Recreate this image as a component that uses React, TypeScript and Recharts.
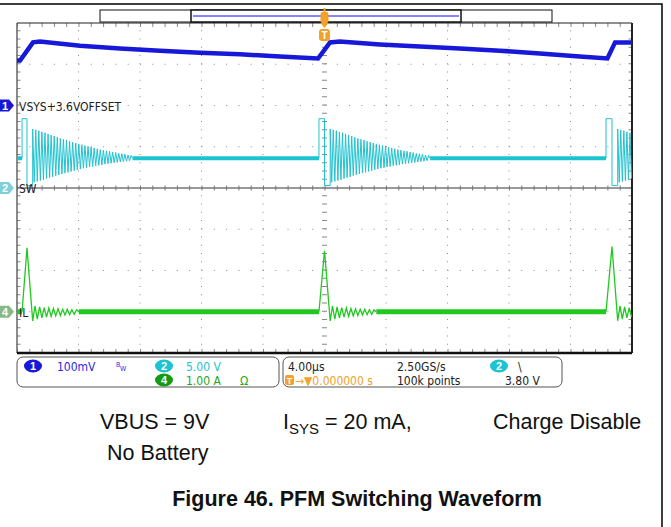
import React from "react";
import { LineChart, Line, XAxis, YAxis, ReferenceLine } from "recharts";

const W = 671;
const H = 527;
const PLOT = { left: 17, top: 23, right: 632, bottom: 353 };
const DIV_H = (PLOT.bottom - PLOT.top) / 8;

// scope settings (from the readout panel)
const CH1_MV_PER_DIV = 100;
const CH2_V_PER_DIV = 5;
const CH4_A_PER_DIV = 1;
const CH1_POS_DIV = 2;
const CH2_POS_DIV = 0;
const CH4_POS_DIV = -3;

// grid positions, in µs / divisions
const GRID_X = [-16, -12, -8, -4, 4, 8, 12, 16];
const GRID_Y = [-3, -2, -1, 1, 2, 3];

// VSYS (ch1): mV above the 3.6 V offset
const VSYS_T_US = [-20, -19.8, -18.96, -18.5, -15.9, -13.3, -10.7, -8.1, -5.5, -2.9, -0.42, 0.36, 1.0, 3.6, 6.2, 8.8, 11.4, 14.0, 16.6, 18.4, 18.9, 20];
const VSYS_MV = [109, 109, 153, 155, 145, 138, 133, 128, 124, 119, 114, 153, 155, 148, 143, 138, 133, 126, 119, 114, 153, 153];

// SW (ch2): one PFM burst per edge
const SW_EDGE_US = [-19.35, 0, 18.7];
const SW_HIGH_US = [0.32, 0.36, 0.39];
const SW_HIGH_V = 8.4;
const SW_LOW_V = 0.3;
const SW_LOW_US = 0.37;
const SW_SETTLED_V = 3.6;
const SW_RING_STEP_US = 0.1;
const SW_RING_V = [
  7.15, 0.7, 7.05, 0.8, 6.95, 0.9, 6.8, 1.0, 6.7, 1.15,
  6.55, 1.25, 6.4, 1.35, 6.3, 1.5, 6.15, 1.6, 6.0, 1.7,
  5.9, 1.8, 5.8, 1.9, 5.65, 2.0, 5.55, 2.1, 5.45, 2.2,
  5.35, 2.3, 5.25, 2.4, 5.15, 2.45, 5.05, 2.55, 4.95, 2.6,
  4.85, 2.7, 4.75, 2.75, 4.65, 2.8, 4.6, 2.9, 4.5, 2.95,
  4.45, 3.0, 4.35, 3.05, 4.3, 3.1, 4.2, 3.15, 4.15, 3.2,
  4.1, 3.25, 4.0, 3.3, 3.95,
];

// IL (ch4): inductor current triangle per burst, then ringing
const IL_PEAK_A = [1.55, 1.48, 1.58];
const IL_RING_STEP_US = 0.15;
const IL_RING_A = [
  -0.22, 0.14, -0.18, 0.12, -0.15, 0.1, -0.13, 0.09, -0.11, 0.08,
  -0.1, 0.07, -0.09, 0.06, -0.08, 0.06, -0.07, 0.05, -0.06, 0.05,
];

type Pt = { t: number; y: number | null };

const ch1 = (mv: number) => CH1_POS_DIV + mv / CH1_MV_PER_DIV;
const ch2 = (v: number) => CH2_POS_DIV + v / CH2_V_PER_DIV;
const ch4 = (a: number) => CH4_POS_DIV + a / CH4_A_PER_DIV;

const vsysData: Pt[] = VSYS_T_US.map((t, i) => ({ t, y: ch1(VSYS_MV[i]) }));

const swThin: Pt[] = [];
const swBand: Pt[] = [];
const ilThin: Pt[] = [];
const ilBand: Pt[] = [];

let swFrom = -20;
let ilFrom = -20;
SW_EDGE_US.forEach((e, i) => {
  const start = e - SW_HIGH_US[i];
  swBand.push({ t: swFrom, y: ch2(SW_SETTLED_V) }, { t: start, y: ch2(SW_SETTLED_V) }, { t: start, y: null });
  swThin.push(
    { t: start, y: ch2(SW_SETTLED_V) },
    { t: start, y: ch2(SW_HIGH_V) },
    { t: e, y: ch2(SW_HIGH_V) },
    { t: e, y: ch2(SW_LOW_V) },
    { t: e + SW_LOW_US, y: ch2(SW_LOW_V) },
  );
  SW_RING_V.forEach((v, k) => swThin.push({ t: e + SW_LOW_US + k * SW_RING_STEP_US, y: ch2(v) }));
  const swEnd = e + SW_LOW_US + SW_RING_V.length * SW_RING_STEP_US;
  swThin.push({ t: swEnd, y: ch2(SW_SETTLED_V) }, { t: swEnd + 0.01, y: null });
  swFrom = swEnd;

  ilBand.push({ t: ilFrom, y: ch4(0) }, { t: start, y: ch4(0) }, { t: start, y: null });
  ilThin.push({ t: start, y: ch4(0) }, { t: e, y: ch4(IL_PEAK_A[i]) });
  IL_RING_A.forEach((a, k) => ilThin.push({ t: e + SW_LOW_US + k * IL_RING_STEP_US, y: ch4(a) }));
  const ilEnd = e + SW_LOW_US + IL_RING_A.length * IL_RING_STEP_US;
  ilThin.push({ t: ilEnd, y: ch4(0) }, { t: ilEnd + 0.01, y: null });
  ilFrom = ilEnd;
});
if (swFrom < 20) swBand.push({ t: swFrom, y: ch2(SW_SETTLED_V) }, { t: 20, y: ch2(SW_SETTLED_V) });
if (ilFrom < 20) ilBand.push({ t: ilFrom, y: ch4(0) }, { t: 20, y: ch4(0) });

const clip = (pts: Pt[]) => pts.filter((p) => p.t <= 20);

const NARROW = "'Liberation Sans Narrow', 'DejaVu Sans Condensed', sans-serif";
const ARIAL = "'Liberation Sans', Arial, sans-serif";
const ORANGE = "#f2a22a";
const BLUE = "#1818d8";
const CYAN = "#1cc4d2";
const GREEN = "#22c822";

const divToY = (d: number) => PLOT.top + (4 - d) * DIV_H;

function ChannelTag({ y, fill, label }: { y: number; fill: string; label: string }) {
  return (
    <g>
      <path d={`M0,${y - 6} H9 L14,${y} L9,${y + 6} H0 Z`} fill={fill} />
      <text x={5} y={y + 4} fontSize={11} fontFamily={ARIAL} fontWeight="bold" fill="#fff" textAnchor="middle">
        {label}
      </text>
    </g>
  );
}

function Badge({ cx, cy, fill, label }: { cx: number; cy: number; fill: string; label: string }) {
  return (
    <g>
      <ellipse cx={cx} cy={cy} rx={9} ry={6.5} fill={fill} />
      <text x={cx} y={cy + 4} fontSize={11} fontFamily={ARIAL} fontWeight="bold" fill="#fff" textAnchor="middle">
        {label}
      </text>
    </g>
  );
}

function Overlay() {
  return (
    <svg width={W} height={H} style={{ position: "absolute", left: 0, top: 0, pointerEvents: "none" }}>
      {/* page frame */}
      <path d="M0,4 H662 V527" fill="none" stroke="#000" strokeWidth={1.5} />

      {/* record overview bar */}
      <rect x={100} y={10} width={452} height={12} fill="#fff" stroke="#111" strokeWidth={1} />
      <rect x={191} y={10} width={270} height={12} fill="#fff" stroke="#111" strokeWidth={1.5} />
      <line x1={193} x2={459} y1={16} y2={16} stroke="#8484ff" strokeWidth={2} />

      {/* trigger markers */}
      <line x1={324.5} x2={324.5} y1={8} y2={12} stroke={ORANGE} strokeWidth={2} />
      <rect x={320.5} y={12} width={8} height={11} rx={2} fill={ORANGE} />
      <path d="M320.5,23 L328.5,23 L324.5,28 Z" fill={ORANGE} />
      <rect x={319} y={29} width={11} height={12} rx={3} fill={ORANGE} />
      <text x={324.5} y={39} fontSize={10} fontFamily={ARIAL} fontWeight="bold" fill="#fff" textAnchor="middle">T</text>

      {/* channel ground markers */}
      <ChannelTag y={divToY(CH1_POS_DIV)} fill={BLUE} label="1" />
      <ChannelTag y={divToY(CH2_POS_DIV)} fill="#7fd0d8" label="2" />
      <ChannelTag y={divToY(CH4_POS_DIV)} fill="#88b888" label="4" />
      <text x={19} y={divToY(CH1_POS_DIV) + 5} fontSize={12} fontFamily={NARROW} fill="#222">VSYS+3.6VOFFSET</text>
      <text x={19} y={divToY(CH2_POS_DIV) + 5} fontSize={12} fontFamily={NARROW} fill="#222">SW</text>
      <text x={19} y={divToY(CH4_POS_DIV) + 5} fontSize={12} fontFamily={NARROW} fill="#222">IL</text>

      {/* readout panel */}
      <rect x={17} y={357} width={262} height={30} rx={6} fill="#fff" stroke="#555" strokeWidth={1} />
      <rect x={283} y={357} width={279} height={30} rx={6} fill="#fff" stroke="#555" strokeWidth={1} />
      <g fontFamily={NARROW} fontSize={12}>
        <Badge cx={33} cy={366} fill={BLUE} label="1" />
        <text x={57} y={371} fill="#2a2ae0">100mV</text>
        <text x={116} y={367} fontSize={7} fill="#2a2ae0">B</text>
        <text x={120} y={371} fontSize={7} fill="#2a2ae0">W</text>
        <Badge cx={164} cy={366} fill={CYAN} label="2" />
        <text x={186} y={371} fill={CYAN}>5.00 V</text>
        <Badge cx={164} cy={380} fill="#139c13" label="4" />
        <text x={186} y={385} fill="#22a822">1.00 A</text>
        <text x={240} y={385} fill="#22a822">Ω</text>

        <text x={288} y={371} fill="#222">4.00µs</text>
        <text x={397} y={371} fill="#222">2.50GS/s</text>
        <Badge cx={499} cy={366} fill={CYAN} label="2" />
        <text x={518} y={371} fill="#222">\</text>
        <rect x={285} y={375} width={9} height={10} rx={2} fill={ORANGE} />
        <text x={289.5} y={384} fontSize={9} fontFamily={ARIAL} fontWeight="bold" fill="#fff" textAnchor="middle">T</text>
        <text x={295} y={385} fill={ORANGE}>→▼0.000000 s</text>
        <text x={397} y={385} fill="#222">100k points</text>
        <text x={505} y={385} fill="#222">3.80 V</text>
      </g>

      {/* figure captions */}
      <g fontFamily={ARIAL} fontSize={21.5} fill="#111">
        <text x={100} y={429}>VBUS = 9V</text>
        <text x={283} y={429}>
          I<tspan dy={5} fontSize={15}>SYS</tspan>
          <tspan dy={-5}> = 20 mA,</tspan>
        </text>
        <text x={493} y={429}>Charge Disable</text>
        <text x={107} y={460}>No Battery</text>
        <text x={357} y={506} fontSize={21.5} fontWeight="bold" textAnchor="middle">
          Figure 46. PFM Switching Waveform
        </text>
      </g>
    </svg>
  );
}

export default function App() {
  return (
    <div style={{ position: "absolute", left: 0, top: 0, width: W, height: H, background: "#fff" }}>
      <LineChart
        width={W}
        height={H}
        margin={{ top: PLOT.top, left: PLOT.left, right: W - PLOT.right, bottom: H - PLOT.bottom }}
      >
        <XAxis type="number" dataKey="t" domain={[-20, 20]} hide allowDataOverflow />
        <YAxis type="number" dataKey="y" domain={[-4, 4]} hide allowDataOverflow />

        {/* dotted graticule */}
        {GRID_Y.map((d) => (
          <ReferenceLine key={`gy${d}`} y={d} stroke="#8a8a8a" strokeWidth={1} strokeDasharray="1 11.3" />
        ))}
        {GRID_X.map((d) => (
          <ReferenceLine key={`gx${d}`} x={d} stroke="#8a8a8a" strokeWidth={1} strokeDasharray="1 7.25" />
        ))}

        {/* centre cross with minor ticks */}
        <ReferenceLine y={0} stroke="#777" strokeWidth={1.5} />
        <ReferenceLine y={0} stroke="#777" strokeWidth={5} strokeDasharray="1 11.3" />
        <ReferenceLine x={0} stroke="#888" strokeWidth={5} strokeDasharray="1 7.25" />

        {/* border ticks */}
        <ReferenceLine y={3.95} stroke="#888" strokeWidth={4} strokeDasharray="1 11.3" />
        <ReferenceLine y={-3.95} stroke="#888" strokeWidth={4} strokeDasharray="1 11.3" />
        <ReferenceLine x={-19.9} stroke="#888" strokeWidth={4} strokeDasharray="1 7.25" />
        <ReferenceLine x={19.9} stroke="#888" strokeWidth={4} strokeDasharray="1 7.25" />

        {/* borders */}
        <ReferenceLine x={-20} stroke="#666" strokeWidth={1.5} />
        <ReferenceLine x={20} stroke="#222" strokeWidth={2} />
        <ReferenceLine y={4} stroke="#222" strokeWidth={1.2} />
        <ReferenceLine y={-4} stroke="#111" strokeWidth={2.5} />

        <Line data={vsysData} dataKey="y" stroke={BLUE} strokeWidth={4.5} dot={false} isAnimationActive={false} />
        <Line data={clip(swBand)} dataKey="y" stroke={CYAN} strokeWidth={4} dot={false} isAnimationActive={false} />
        <Line data={clip(swThin)} dataKey="y" stroke="#20c2d0" strokeWidth={1} dot={false} isAnimationActive={false} />
        <Line data={clip(ilBand)} dataKey="y" stroke={GREEN} strokeWidth={5} dot={false} isAnimationActive={false} />
        <Line data={clip(ilThin)} dataKey="y" stroke={GREEN} strokeWidth={1.3} dot={false} isAnimationActive={false} />
      </LineChart>
      <Overlay />
    </div>
  );
}
